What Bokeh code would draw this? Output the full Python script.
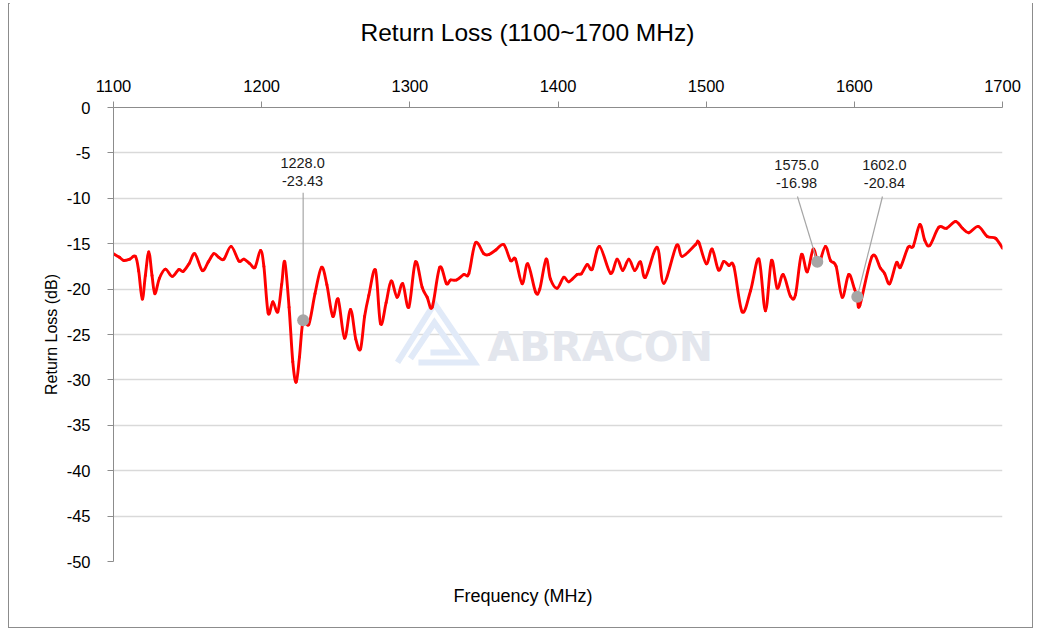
import numpy as np
from bokeh.plotting import figure
from bokeh.layouts import column
from bokeh.models import Range1d, FixedTicker, Title, ColumnDataSource
from bokeh.core.properties import value
from bokeh.embed import file_html
from bokeh.resources import INLINE

# ---- data ----
freq = [1100, 1104, 1107, 1111, 1114.8, 1117, 1119.4, 1121.5, 1123.8, 1126, 1127.9, 1131, 1135,
        1139.6, 1144, 1147, 1151, 1154.9, 1159.9, 1164, 1167.7, 1171, 1174.5, 1179.4, 1184.6,
        1188, 1192, 1195.5, 1199.2, 1201.5, 1204.4, 1207.5, 1210.9, 1213.5, 1215.6, 1218.5,
        1221, 1223.3, 1225.5, 1228, 1231.8, 1236, 1240.4, 1244, 1248, 1251.6, 1255.9, 1260,
        1263.5, 1266.7, 1269.5, 1272.3, 1276.8, 1280.2, 1284, 1287.4, 1291.4, 1295.2, 1299.3,
        1303.8, 1308.3, 1311.7, 1315.1, 1320.2, 1324.7, 1327.4, 1331.5, 1336.4, 1339.8, 1344.3,
        1349.9, 1353.3, 1358, 1363.4, 1368, 1371.3, 1375.8, 1379.6, 1384.8, 1387.7, 1392,
        1394.9, 1399.4, 1403.9, 1407.3, 1412.9, 1415.8, 1419.7, 1423.1, 1428, 1435.4, 1439.9,
        1443.7, 1447.8, 1451.8, 1455.7, 1459, 1466.9, 1471.4, 1480, 1483.8, 1492.8, 1495,
        1500.1, 1504, 1508.3, 1511.9, 1515.3, 1518.7, 1524.3, 1530, 1535.6, 1540, 1544.1,
        1547.9, 1552, 1556.9, 1560.3, 1564.3, 1568.2, 1572.2, 1575, 1576.5, 1580.5, 1583.9,
        1587.7, 1591.8, 1596.2, 1600.1, 1602, 1603.7, 1612, 1617.6, 1620.5, 1623.9, 1628.4,
        1631.1, 1636.3, 1639.7, 1644.2, 1647.5, 1650.9, 1657, 1662.2, 1668.3, 1673, 1677.3,
        1683.6, 1689.7, 1695.3, 1700]
return_loss = [-16.1, -16.5, -16.85, -16.7, -16.4, -18.0, -21.1, -18.5, -15.9, -18.5, -20.5, -18.8, -17.8,
               -18.6, -17.85, -18.05, -17.2, -16.1, -17.95, -17.0, -16.1, -16.5, -16.7, -15.3, -16.9,
               -16.7, -17.2, -17.6, -15.75, -17.5, -22.65, -21.4, -22.5, -19.5, -17.0, -22.0,
               -28.0, -30.25, -27.5, -23.43, -23.9, -20.5, -17.6, -19.5, -23.0, -21.1, -25.4, -22.25,
               -25.5, -26.6, -23.0, -20.7, -17.9, -23.8, -21.5, -19.1, -20.9, -19.4, -22.0,
               -17.0, -19.8, -20.9, -22.0, -17.6, -19.4, -19.0, -19.0, -18.4, -18.3, -14.9,
               -16.1, -16.2, -15.7, -15.1, -16.85, -16.7, -19.4, -17.2, -20.3, -20.0, -16.7,
               -18.9, -19.9, -18.7, -19.2, -18.4, -18.3, -17.3, -17.8, -15.3, -18.25, -16.7,
               -17.95, -16.7, -17.95, -17.0, -18.7, -15.4, -19.35, -15.2, -16.4, -15.1, -14.85,
               -17.2, -15.6, -17.9, -16.95, -17.4, -17.5, -22.5, -20.15, -16.7, -22.4, -16.85,
               -19.9, -18.4, -20.8, -20.6, -16.2, -18.1, -15.6, -16.98, -17.1, -15.3, -16.85,
               -17.5, -20.9, -18.4, -20.0, -20.84, -21.8, -16.4, -17.7, -18.3, -19.4, -17.1,
               -17.6, -15.4, -15.3, -12.9, -14.6, -15.2, -13.2, -13.3, -12.55, -13.3, -13.8,
               -13.1, -14.2, -14.4, -15.5]

x_ticks = [1100, 1200, 1300, 1400, 1500, 1600, 1700]
y_ticks = [0, -5, -10, -15, -20, -25, -30, -35, -40, -45, -50]

marker_freq = [1228.0, 1575.0, 1602.0]
marker_rl = [-23.43, -16.98, -20.84]
marker_text = ["1228.0\n-23.43", "1575.0\n-16.98", "1602.0\n-20.84"]
# callout text anchor (top of text block) and leader-line top end
callout_x = [1227.6, 1561.0, 1620.3]
callout_y = [-5.2, -5.4, -5.4]
leader_x = [1228.0, 1561.6, 1619.0]
leader_y = [-9.4, -9.8, -9.8]

FONT = "Liberation Sans"

p = figure(frame_width=889, frame_height=454,
           x_range=Range1d(1100, 1700), y_range=Range1d(-50, 0),
           x_axis_location="above", output_backend="svg", toolbar_location=None,
           min_border_left=104, min_border_right=30, min_border_top=122, min_border_bottom=66,
           title=None)
p.styles = {"margin-top": "-19px"}
p.background_fill_color = "white"
p.border_fill_color = "white"
p.outline_line_color = None

# axes
for ax, ticks in ((p.xaxis[0], x_ticks), (p.yaxis[0], y_ticks)):
    ax.ticker = FixedTicker(ticks=ticks)
    ax.major_label_overrides = {t: str(t) for t in ticks}
    ax.axis_line_color = "#8c8c8c"
    ax.major_tick_line_color = "#8c8c8c"
    ax.major_tick_out = 6
    ax.major_tick_in = 0
    ax.minor_tick_line_color = None
    ax.major_label_text_font = FONT
    ax.major_label_text_font_size = "16.5px"
    ax.major_label_text_color = "#000000"
p.xaxis.major_label_standoff = 10
p.yaxis.major_label_standoff = 17
p.yaxis.axis_label = "Return Loss (dB)"
p.yaxis.axis_label_text_font = FONT
p.yaxis.axis_label_text_font_size = "16px"
p.yaxis.axis_label_text_font_style = "normal"
p.yaxis.axis_label_text_color = "#000000"
p.yaxis.axis_label_standoff = 4

p.xgrid.visible = False
p.ygrid.ticker = FixedTicker(ticks=y_ticks)
p.ygrid.grid_line_color = "#d9d9d9"
p.ygrid.grid_line_width = 1.5

# watermark
logo_xs = [[1291.7, 1316.6, 1343.6, 1305.8], [1300.4, 1316.6, 1330.8, 1313.9]]
logo_ys = [[-28.08, -21.59, -28.08, -28.08], [-27.64, -23.68, -26.98, -26.98]]
p.multi_line(logo_xs, logo_ys, line_color="#e1eaf8", line_width=6, line_join="miter")
p.text(x=[1352.4], y=[-26.4], text=["ABRACON"], text_font=value("DejaVu Sans"),
       text_font_size="41px", text_font_style="bold", text_color="#e3e6ed",
       text_baseline="alphabetic", text_align="left")

# curve: smoothed line through the read points (Catmull-Rom as cubic Bezier segments)
fx = np.array(freq, dtype=float)
fy = np.array(return_loss, dtype=float)
px_prev = np.concatenate([[fx[0]], fx[:-2]])
py_prev = np.concatenate([[fy[0]], fy[:-2]])
px_next = np.concatenate([fx[2:], [fx[-1]]])
py_next = np.concatenate([fy[2:], [fy[-1]]])
seg = ColumnDataSource(dict(
    x0=fx[:-1], y0=fy[:-1], x1=fx[1:], y1=fy[1:],
    cx0=fx[:-1] + (fx[1:] - px_prev) / 6.0, cy0=fy[:-1] + (fy[1:] - py_prev) / 6.0,
    cx1=fx[1:] - (px_next - fx[:-1]) / 6.0, cy1=fy[1:] - (py_next - fy[:-1]) / 6.0,
))
p.bezier(x0="x0", y0="y0", x1="x1", y1="y1", cx0="cx0", cy0="cy0", cx1="cx1", cy1="cy1",
         source=seg, line_color="#ff0000", line_width=2.9, line_cap="round")

# callouts
p.segment(x0=leader_x, y0=leader_y, x1=marker_freq, y1=marker_rl, line_color="#a6a6a6", line_width=1.2)
p.scatter(marker_freq, marker_rl, size=12, fill_color="#a6a6a6", line_color=None)
p.text(x=callout_x, y=callout_y, text=marker_text, text_font=value(FONT), text_font_size="14.5px",
       text_color="#1a1a1a", text_align="center", text_baseline="top", text_line_height=1.15)

# title and x-axis label
p.add_layout(Title(text="Return Loss (1100~1700 MHz)", align="left", offset=247,
                   text_font=FONT, text_font_size="24.5px", text_font_style="normal",
                   text_color="#000000", standoff=62), "above")
p.add_layout(Title(text="Frequency (MHz)", align="left", offset=340,
                   text_font=FONT, text_font_size="18px", text_font_style="normal",
                   text_color="#000000", standoff=44), "below")

layout = column(p)
layout.styles = {"margin": "4px 0px 0px 9px", "outline": "1px solid #8c8c8c"}

open("out.html", "w").write(file_html(layout, INLINE))
